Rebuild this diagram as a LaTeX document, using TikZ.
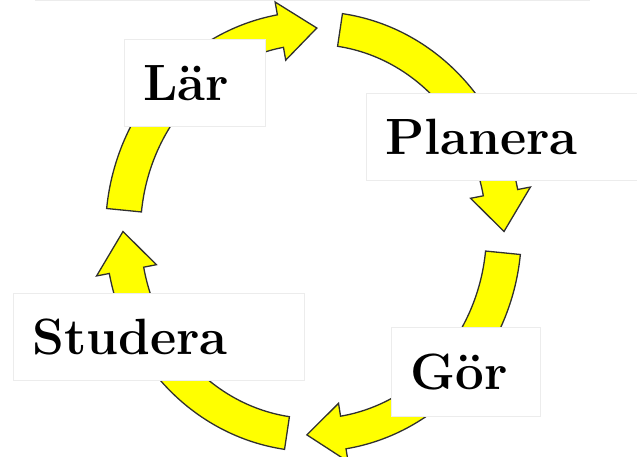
\documentclass[tikz,border=0pt]{standalone}
\usetikzlibrary{calc}
\definecolor{sunYellow}{HTML}{FFFF00}
\definecolor{rimGray}{HTML}{303030}
\definecolor{linegray}{HTML}{ECECEC}

\begin{document}
\begin{tikzpicture}[
    x=1pt, y=1pt,
    box/.style={draw=linegray, fill=white, anchor=north west, inner xsep=19pt, minimum height=87pt, align=left, text height=35pt, text depth=0pt, font=\fontsize{51}{51}\selectfont\bfseries},
    band/.style={draw=rimGray, fill=sunYellow, line width=1.3pt, line join=miter}
  ]
    \useasboundingbox (0,0) rectangle (637,457);
    \draw[linegray, line width=1pt] (35,456.5) -- (590,456.5);

    \coordinate (ctr) at (313.5,225.5);
    \begin{scope}[shift={(ctr)}]
      \draw[band] (82:208 and 220) arc[start angle=82, end angle=11, x radius=208, y radius=220] -- (11:221 and 233) -- (0:190.5 and 203.5) -- (11:160 and 174) -- (11:173 and 187) arc[start angle=11, end angle=82, x radius=173, y radius=187] -- cycle;
      \draw[band] (-6:208 and 220) arc[start angle=-6, end angle=-81, x radius=208, y radius=220] -- (-81:221 and 233) -- (-92:190.5 and 203.5) -- (-81:160 and 174) -- (-81:173 and 187) arc[start angle=-81, end angle=-6, x radius=173, y radius=187] -- cycle;
      \draw[band] (-98:208 and 220) arc[start angle=-98, end angle=-169, x radius=208, y radius=220] -- (-169:221 and 233) -- (-180:190.5 and 203.5) -- (-169:160 and 174) -- (-169:173 and 187) arc[start angle=-169, end angle=-98, x radius=173, y radius=187] -- cycle;
      \draw[band] (174:208 and 220) arc[start angle=174, end angle=100, x radius=208, y radius=220] -- (100:221 and 233) -- (89:190.5 and 203.5) -- (100:160 and 174) -- (100:173 and 187) arc[start angle=100, end angle=174, x radius=173, y radius=187] -- cycle;
    \end{scope}

    \node[box, text width=103pt] (lar) at (124,418) {Lär};
    \node[box, text width=233pt] (planera) at (366,364) {Planera};
    \node[box, text width=253pt] (studera) at (13,164) {Studera};
    \node[box, text width=111pt, minimum height=89pt] (gor) at (391,130) {Gör};
\end{tikzpicture}
\end{document}
